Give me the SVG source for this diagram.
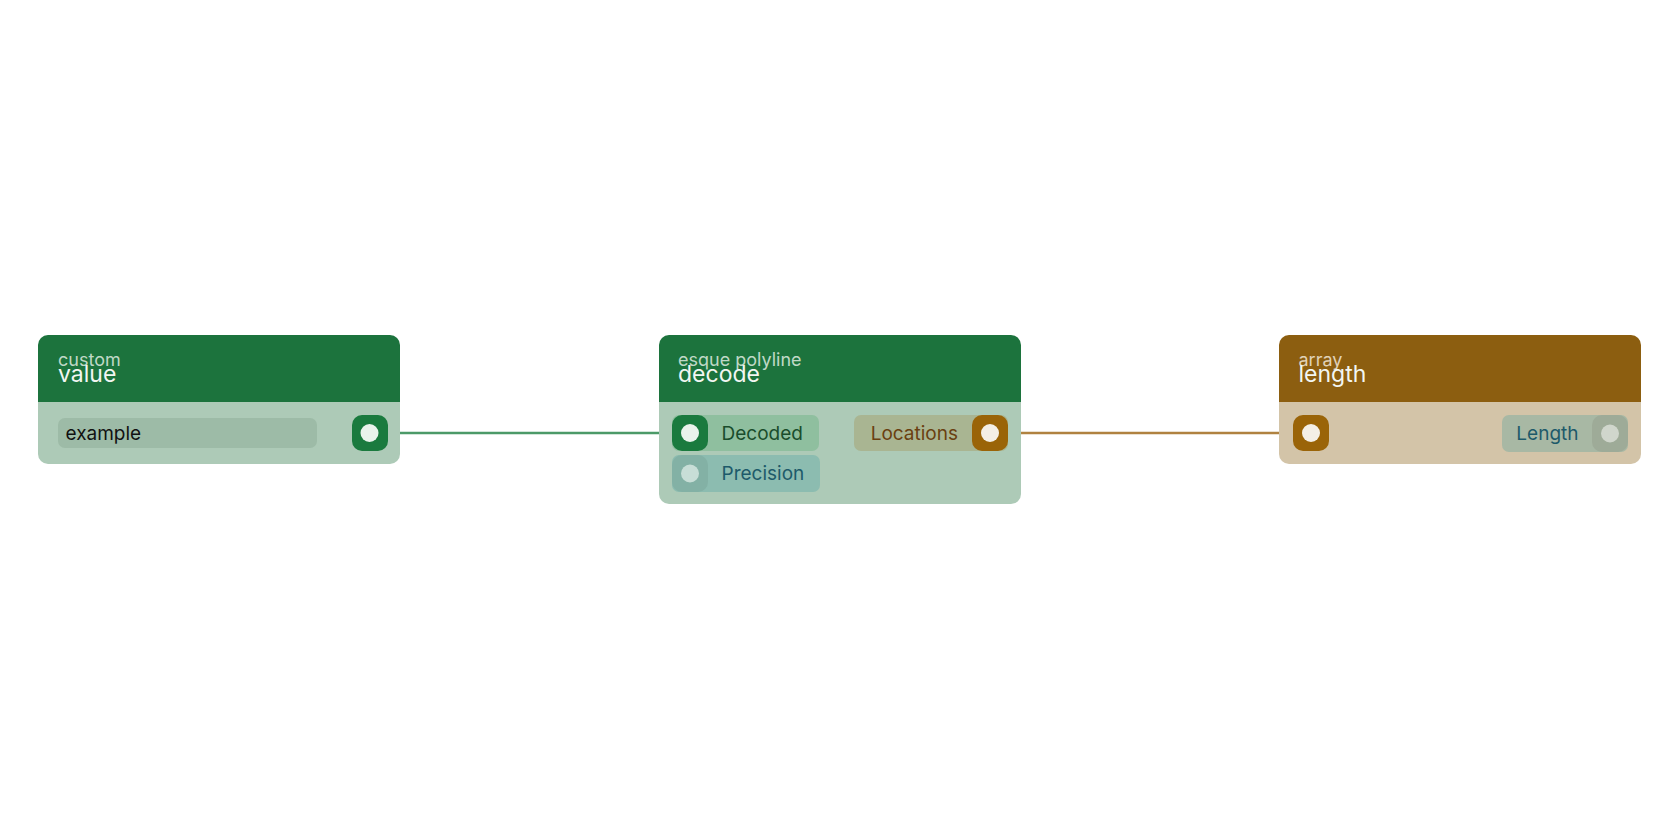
<svg xmlns="http://www.w3.org/2000/svg" width="1680" height="840" viewBox="0 0 1680 840">
<style>
text{font-family:Inter,"Noto Sans","Liberation Sans",sans-serif}
.sub{font-size:18px;fill:#d2e3d6;opacity:.9}
.title{font-size:23px;fill:#f2f6f2}
.lbl{font-size:19px}
.gh{fill:#1c733d}
.gb{fill:#adcab7}
.oh{fill:#8c5e10}
.ob{fill:#d3c4a8}
.pg{fill:#1a7a3e}
.po{fill:#9a6408}
.dot{fill:#eaf3ec}
.doto{fill:#f4efe6}
</style>
<rect width="1680" height="840" fill="#ffffff"/>
<g id="connectors">
<line x1="387" y1="433" x2="400" y2="433" stroke="#8cc19c" stroke-width="2.5"/>
<line x1="400" y1="433" x2="659" y2="433" stroke="#4c9a68" stroke-width="2.5"/>
<line x1="659" y1="433" x2="672" y2="433" stroke="#8cc19c" stroke-width="2.5"/>
<line x1="1008" y1="433" x2="1021" y2="433" stroke="#c4b48a" stroke-width="2.5"/>
<line x1="1021" y1="433" x2="1279" y2="433" stroke="#b08240" stroke-width="2.5"/>
<line x1="1279" y1="433" x2="1293" y2="433" stroke="#c9ab82" stroke-width="2.5"/>
</g>
<g id="node-value">
<path class="gb" d="M38 402H400V454A10 10 0 0 1 390 464H48A10 10 0 0 1 38 454Z"/>
<path class="gh" d="M48 335H390A10 10 0 0 1 400 345V402H38V345A10 10 0 0 1 48 335Z"/>
<text class="sub" x="58" y="366">custom</text>
<text class="title" x="58" y="382">value</text>
<rect x="58" y="418" width="259" height="30" rx="7" fill="#9dbba7"/>
<text class="lbl" x="65.5" y="439.5" fill="#111" font-size="19.5">example</text>
<rect x="352" y="415" width="36" height="36" rx="10" class="pg"/>
<circle cx="369.5" cy="433" r="9" class="dot"/>
</g>
<g id="node-decode">
<path class="gb" d="M659 402H1021V494A10 10 0 0 1 1011 504H669A10 10 0 0 1 659 494Z"/>
<path class="gh" d="M669 335H1011A10 10 0 0 1 1021 345V402H659V345A10 10 0 0 1 669 335Z"/>
<text class="sub" x="678" y="366">esque polyline</text>
<text class="title" x="678" y="382">decode</text>
<rect x="672" y="415" width="147" height="36" rx="7" fill="#8fbf9f"/>
<rect x="672" y="415" width="36" height="36" rx="10" class="pg"/>
<circle cx="690" cy="433" r="9" class="dot"/>
<text class="lbl" x="721.5" y="440" fill="#1a4d2c">Decoded</text>
<rect x="672" y="455" width="148" height="37" rx="7" fill="#8cbcb0"/>
<rect x="672" y="455" width="36" height="37" rx="10" fill="#83b1a5"/>
<circle cx="690" cy="473.5" r="9" fill="#c8ded7"/>
<text class="lbl" x="721.5" y="480" fill="#1d5a6a">Precision</text>
<rect x="854" y="415" width="154" height="36" rx="7" fill="#a9b592"/>
<rect x="972" y="415" width="36" height="36" rx="10" class="po"/>
<circle cx="990" cy="433" r="9" class="doto"/>
<text class="lbl" x="958" y="440" fill="#6a4010" text-anchor="end">Locations</text>
</g>
<g id="node-length">
<path class="ob" d="M1279 402H1641V454A10 10 0 0 1 1631 464H1289A10 10 0 0 1 1279 454Z"/>
<path class="oh" d="M1289 335H1631A10 10 0 0 1 1641 345V402H1279V345A10 10 0 0 1 1289 335Z"/>
<text class="sub" x="1298.5" y="366" style="fill:#eadfca">array</text>
<text class="title" x="1298.5" y="382">length</text>
<rect x="1293" y="415" width="36" height="36" rx="10" class="po"/>
<circle cx="1311" cy="433" r="9" class="doto"/>
<rect x="1502" y="415" width="126" height="37" rx="7" fill="#a8b8a4"/>
<rect x="1592" y="415" width="36" height="37" rx="10" fill="#9eab98"/>
<circle cx="1610" cy="433.5" r="9" fill="#d0d6cc"/>
<text class="lbl" x="1578.5" y="440" fill="#1d5a6a" text-anchor="end">Length</text>
</g>
</svg>
